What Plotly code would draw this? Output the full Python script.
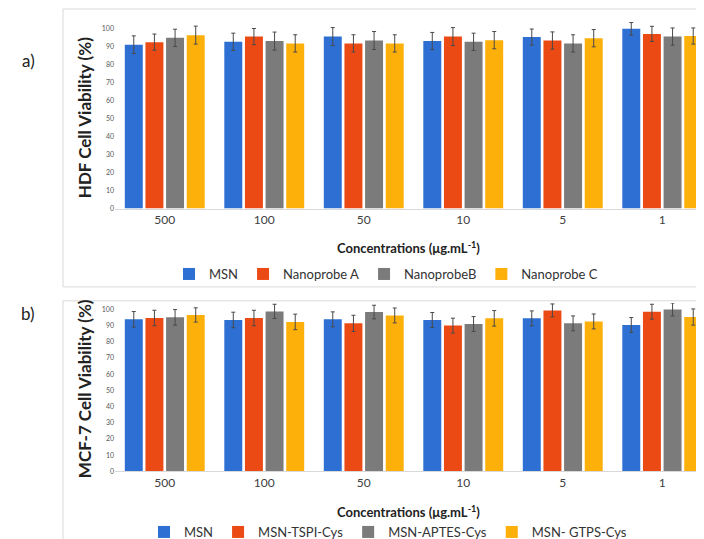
import plotly.graph_objects as go

categories = ["500", "100", "50", "10", "5", "1"]

series_a_names = ["MSN", "Nanoprobe A", "NanoprobeB", "Nanoprobe C"]
series_a_vals = [
    [91.2, 92.8, 95.7, 93.2, 95.4, 100.0],
    [92.6, 95.7, 91.9, 95.7, 93.5, 97.2],
    [95.0, 93.2, 93.5, 92.8, 91.9, 95.7],
    [96.5, 91.9, 91.9, 93.7, 94.8, 96.0],
]
series_a_err = [
    [4.9, 4.8, 5.0, 4.8, 4.5, 3.5],
    [4.5, 4.5, 4.8, 5.0, 4.8, 4.2],
    [4.8, 5.0, 5.0, 4.8, 4.8, 4.8],
    [5.0, 4.8, 4.8, 4.8, 4.8, 4.5],
]

series_b_names = ["MSN", "MSN-TSPI-Cys", "MSN-APTES-Cys", "MSN- GTPS-Cys"]
series_b_vals = [
    [93.9, 93.5, 93.9, 93.5, 94.5, 90.4],
    [94.7, 94.7, 91.4, 90.0, 99.4, 98.6],
    [95.1, 98.8, 98.4, 91.0, 91.4, 100.0],
    [96.6, 92.3, 96.3, 94.5, 92.6, 95.3],
]
series_b_err = [
    [4.8, 4.8, 4.6, 4.6, 4.6, 4.6],
    [4.8, 4.8, 5.0, 4.6, 4.0, 4.6],
    [4.8, 4.4, 4.2, 4.6, 4.6, 4.0],
    [4.4, 4.8, 4.6, 4.8, 4.6, 5.0],
]

colors = ["#2D6FD2", "#EC4A14", "#7B7B7B", "#FDAF0A"]

W, H = 704, 539
def py(px):
    return 1 - px / H
def px_x(px):
    return px / W

fig = go.Figure()

for i in range(4):
    fig.add_trace(go.Bar(
        x=categories, y=series_a_vals[i], name=series_a_names[i],
        marker=dict(color=colors[i], line=dict(width=0)),
        error_y=dict(type="data", array=series_a_err[i], color="#4a4a4a", thickness=1, width=2),
        xaxis="x", yaxis="y", legend="legend",
    ))
for i in range(4):
    fig.add_trace(go.Bar(
        x=categories, y=series_b_vals[i], name=series_b_names[i],
        marker=dict(color=colors[i], line=dict(width=0)),
        error_y=dict(type="data", array=series_b_err[i], color="#4a4a4a", thickness=1, width=2),
        xaxis="x2", yaxis="y2", legend="legend2",
    ))

font_family = "Lato, Open Sans, sans-serif"
xcommon = dict(
    showgrid=False, showline=True, linecolor="#d9d9d9", linewidth=1,
    ticks="", tickfont=dict(size=12, color="#404040", family=font_family),
    domain=[px_x(107), 1.0], fixedrange=True,
)
ycommon = dict(
    range=[0, 104], tickvals=list(range(0, 101, 10)), showgrid=False,
    showline=False, zeroline=False, ticks="",
    tickfont=dict(size=7, color="#595959", family=font_family),
)

fig.update_layout(
    width=W, height=H,
    margin=dict(l=0, r=0, t=0, b=0),
    paper_bgcolor="white", plot_bgcolor="white",
    barmode="group", bargap=0.17, bargroupgap=0.13,
    font=dict(family=font_family, color="#404040"),
    xaxis=dict(**xcommon, anchor="y"),
    yaxis=dict(**ycommon, domain=[py(202), py(202 - 104 * 1.81)], anchor="x"),
    xaxis2=dict(**xcommon, anchor="y2"),
    yaxis2=dict(**ycommon, domain=[py(466.7), py(466.7 - 104 * 1.63)], anchor="x2"),
    legend=dict(orientation="h", x=px_x(378), y=py(268), xanchor="center", yanchor="middle",
                font=dict(size=13, color="#333333"), itemwidth=30, bgcolor="rgba(0,0,0,0)"),
    legend2=dict(orientation="h", x=px_x(380), y=py(528), xanchor="center", yanchor="middle",
                 font=dict(size=13, color="#333333"), itemwidth=30, bgcolor="rgba(0,0,0,0)"),
    showlegend=True,
)

# panel borders
fig.add_shape(type="rect", xref="paper", yref="paper",
              x0=px_x(55), x1=px_x(703), y0=py(281), y1=py(1),
              line=dict(color="#d9d9d9", width=1))
fig.add_shape(type="rect", xref="paper", yref="paper",
              x0=px_x(55), x1=px_x(703), y0=py(545), y1=py(295),
              line=dict(color="#d9d9d9", width=1))

ann = [
    dict(text="a)", x=px_x(20), y=py(53), font=dict(size=17, color="#222")),
    dict(text="b)", x=px_x(20), y=py(308), font=dict(size=17, color="#222")),
    dict(text="<b>HDF Cell Viability (%)</b>", x=px_x(76), y=py(111), textangle=-90,
         font=dict(size=17, color="#222")),
    dict(text="<b>MCF-7 Cell Viability (%)</b>", x=px_x(76), y=py(384), textangle=-90,
         font=dict(size=17, color="#222")),
    dict(text="<b>Concentrations (μg.mL<sup>-1</sup>)</b>", x=px_x(400), y=py(241),
         font=dict(size=13, color="#222")),
    dict(text="<b>Concentrations (μg.mL<sup>-1</sup>)</b>", x=px_x(400), y=py(507),
         font=dict(size=13, color="#222")),
]
for a in ann:
    fig.add_annotation(xref="paper", yref="paper", showarrow=False,
                       xanchor="center", yanchor="middle", **a)

fig.write_html("out.html")
